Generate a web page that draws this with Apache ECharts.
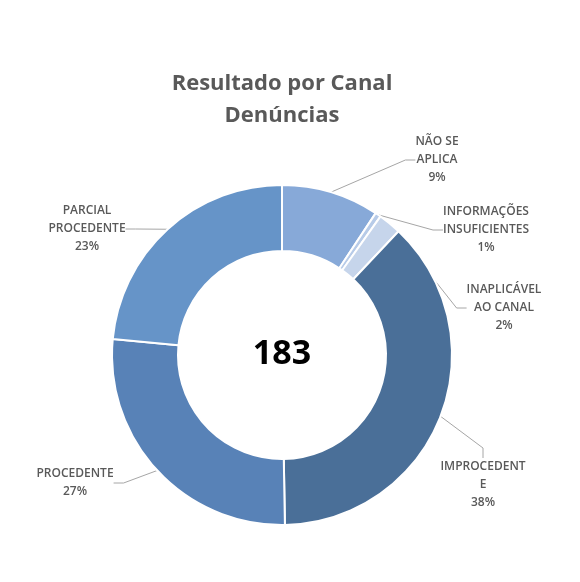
<!DOCTYPE html>
<html>
<head>
<meta charset="utf-8">
<script src="https://cdn.jsdelivr.net/npm/echarts@6/dist/echarts.min.js"></script>
<style>
  html, body { margin: 0; padding: 0; background: #fff; }
  #chart { width: 580px; height: 582px; }
</style>
</head>
<body>
<div id="chart"></div>
<script>
// categories as shown on the chart (line breaks as in the picture)
var categories = [
  'NÃO SE\nAPLICA',
  'INFORMAÇÕES\nINSUFICIENTES',
  'INAPLICÁVEL\nAO CANAL',
  'IMPROCEDENT\nE',
  'PROCEDENTE',
  'PARCIAL\nPROCEDENTE'
];
// counts per category (total 183)
var counts = [17, 1, 4, 69, 49, 43];
var colors = ['#87a9d8', '#b7cbe8', '#c6d5eb', '#4a6f98', '#5882b7', '#6694c8'];

// where each label sits (centre of the text block)
var labelPos = [
  [437, 160], [486, 230], [504, 308], [483, 485], [75, 483], [87, 229]
];

var total = counts.reduce(function (a, b) { return a + b; }, 0);

var data = categories.map(function (name, i) {
  return { name: name, value: counts[i], itemStyle: { color: colors[i] } };
});

var chart = echarts.init(document.getElementById('chart'));

var option = {
  backgroundColor: '#fff',
  animation: false,
  title: {
    text: 'Resultado por Canal\nDenúncias',
    left: 277,
    top: 63,
    textAlign: 'center',
    textStyle: {
      fontFamily: 'Open Sans',
      fontSize: 22,
      fontWeight: 'bold',
      color: '#595959',
      lineHeight: 32
    }
  },
  graphic: [{
    type: 'text',
    x: 282,
    y: 354,
    style: {
      text: String(total),
      align: 'center',
      verticalAlign: 'middle',
      fontFamily: 'Open Sans',
      fontSize: 34,
      fontWeight: 'bold',
      fill: '#000'
    }
  }],
  series: [{
    type: 'pie',
    center: [282, 355],
    radius: [104, 170],
    startAngle: 90,
    clockwise: true,
    data: data,
    itemStyle: { borderColor: '#fff', borderWidth: 2 },
    label: {
      show: true,
      position: 'outside',
      fontFamily: 'Open Sans',
      fontSize: 12,
      fontWeight: 600,
      lineHeight: 18,
      color: '#595959',
      align: 'center',
      formatter: function (p) {
        return p.name + '\n' + Math.round(p.value / total * 100) + '%';
      }
    },
    labelLine: {
      show: true,
      length: 10,
      length2: 10,
      lineStyle: { color: '#a6a6a6', width: 1 }
    },
    labelLayout: function (params) {
      var pos = labelPos[params.dataIndex];
      return {
        x: pos[0],
        y: pos[1],
        align: 'center',
        verticalAlign: 'middle'
      };
    },
    emphasis: { disabled: true }
  }]
};

chart.setOption(option);
</script>
</body>
</html>
